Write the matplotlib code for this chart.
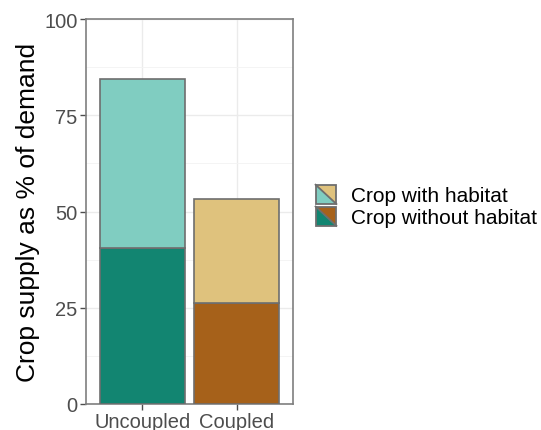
import numpy as np
import matplotlib
matplotlib.use("Agg")
import matplotlib.pyplot as plt
from matplotlib.patches import Polygon, Rectangle
from matplotlib.lines import Line2D
from matplotlib.legend_handler import HandlerBase

plt.rcParams["font.family"] = ["Liberation Sans", "DejaVu Sans"]

# data
scenarios = ["Uncoupled", "Coupled"]
without_habitat = [40.5, 26.2]
with_habitat = [43.9, 27.0]  # stacked on top
ticks_y = [0, 25, 50, 75, 100]
legend_labels = ["Crop with habitat", "Crop without habitat"]

light_cols = ["#80CDC1", "#DFC27D"]
dark_cols = ["#128571", "#A6611A"]
edge = "#6E6E6E"


class SplitHandler(HandlerBase):
    """Legend key split along the diagonal into two colours."""
    def __init__(self, lower, upper):
        super().__init__()
        self.lower = lower
        self.upper = upper

    def create_artists(self, legend, orig_handle, xdescent, ydescent,
                       width, height, fontsize, trans):
        x0, y0 = -xdescent, -ydescent
        x1, y1 = x0 + width, y0 + height
        lo = Polygon([[x0, y1], [x0, y0], [x1, y0]], closed=True,
                     facecolor=self.lower, edgecolor="none", transform=trans)
        up = Polygon([[x0, y1], [x1, y1], [x1, y0]], closed=True,
                     facecolor=self.upper, edgecolor="none", transform=trans)
        diag = Line2D([x0, x1], [y1, y0], color=edge, lw=1.3, transform=trans)
        box = Rectangle((x0, y0), width, height, facecolor="none",
                        edgecolor=edge, lw=1.3, transform=trans)
        return [lo, up, diag, box]


fig = plt.figure(figsize=(5.41, 4.31), dpi=100)
ax = fig.add_axes([86 / 541, 1 - 405 / 431, 207 / 541, 385 / 431])

x = np.arange(1, len(scenarios) + 1)
ax.bar(x, without_habitat, width=0.9, color=dark_cols, edgecolor=edge,
       linewidth=1.2, zorder=3)
ax.bar(x, with_habitat, width=0.9, bottom=without_habitat, color=light_cols,
       edgecolor=edge, linewidth=1.2, zorder=3)

ax.set_xlim(0.4, 2.6)
ax.set_ylim(0, 100)
ax.set_xticks(x)
ax.set_xticklabels(scenarios)
ax.set_yticks(ticks_y)
ax.set_yticks([12.5, 37.5, 62.5, 87.5], minor=True)
ax.grid(True, which="major", color="#EBEBEB", lw=1.0, zorder=0)
ax.grid(True, which="minor", axis="y", color="#F3F3F3", lw=0.6, zorder=0)
ax.tick_params(axis="both", which="major", labelsize=14.5, colors="#4D4D4D",
               length=4, width=1, pad=2)
ax.tick_params(axis="y", which="minor", length=0)
for sp in ax.spines.values():
    sp.set_color("#7F7F7F")
    sp.set_linewidth(1.2)
ax.set_ylabel("Crop supply as % of demand", fontsize=19, labelpad=3)

h1 = Rectangle((0, 0), 1, 1)
h2 = Rectangle((0, 0), 1, 1)
fig.legend([h1, h2], legend_labels,
           handler_map={h1: SplitHandler(light_cols[0], light_cols[1]),
                        h2: SplitHandler(dark_cols[0], dark_cols[1])},
           loc="center left", bbox_to_anchor=(301 / 541, 1 - 207 / 431),
           frameon=False, fontsize=15, handlelength=1.0, handleheight=1.05,
           handletextpad=0.72, labelspacing=0.05, borderpad=0.2)

fig.savefig("out.png", dpi=100)
